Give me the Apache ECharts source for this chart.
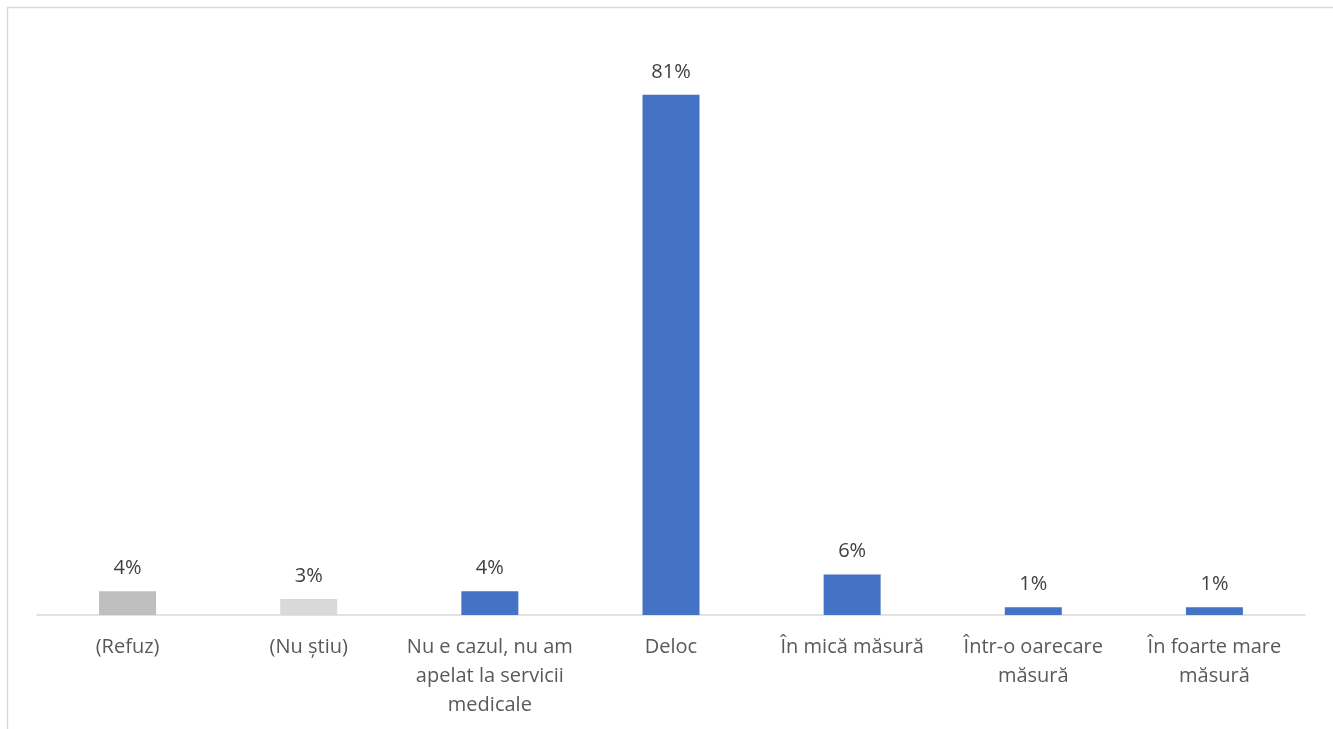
<!DOCTYPE html>
<html>
<head>
<meta charset="utf-8">
<script src="https://cdn.jsdelivr.net/npm/echarts@6/dist/echarts.min.js"></script>
<style>
html,body{margin:0;padding:0;background:#fff;}
#chart{width:1333px;height:729px;}
</style>
</head>
<body>
<div id="chart"></div>
<script>
const categories = ["(Refuz)", "(Nu știu)", "Nu e cazul, nu am\napelat la servicii\nmedicale", "Deloc", "În mică măsură", "Într-o oarecare\nmăsură", "În foarte mare\nmăsură"];
const values = [3.7, 2.5, 3.7, 81, 6.3, 1.2, 1.2];
const barColors = ["#BFBFBF", "#D9D9D9", "#4472C4", "#4472C4", "#4472C4", "#4472C4", "#4472C4"];

const chart = echarts.init(document.getElementById('chart'));
chart.setOption({
  animation: false,
  backgroundColor: '#ffffff',
  graphic: [{
    type: 'rect',
    shape: { x: 7.5, y: 7.5, width: 1340, height: 740 },
    style: { fill: 'none', stroke: '#D9D9D9', lineWidth: 1.5 },
    silent: true
  }],
  grid: { left: 37, right: 28, top: 37, bottom: 114 },
  xAxis: {
    type: 'category',
    data: categories,
    axisLine: { show: true, lineStyle: { color: '#D9D9D9', width: 1.5 } },
    axisTick: { show: false },
    axisLabel: {
      interval: 0,
      color: '#595959',
      fontFamily: 'Open Sans',
      fontSize: 20,
      lineHeight: 29,
      margin: 18
    }
  },
  yAxis: {
    type: 'value',
    min: 0,
    max: 90,
    show: false,
    splitLine: { show: false }
  },
  series: [{
    type: 'bar',
    data: values.map((v, i) => ({ value: v, itemStyle: { color: barColors[i] } })),
    barWidth: 57,
    label: {
      show: true,
      position: 'top',
      distance: 13,
      color: '#404040',
      fontFamily: 'Open Sans',
      fontSize: 20,
      formatter: p => Math.round(p.value) + '%'
    }
  }]
});
</script>
</body>
</html>
